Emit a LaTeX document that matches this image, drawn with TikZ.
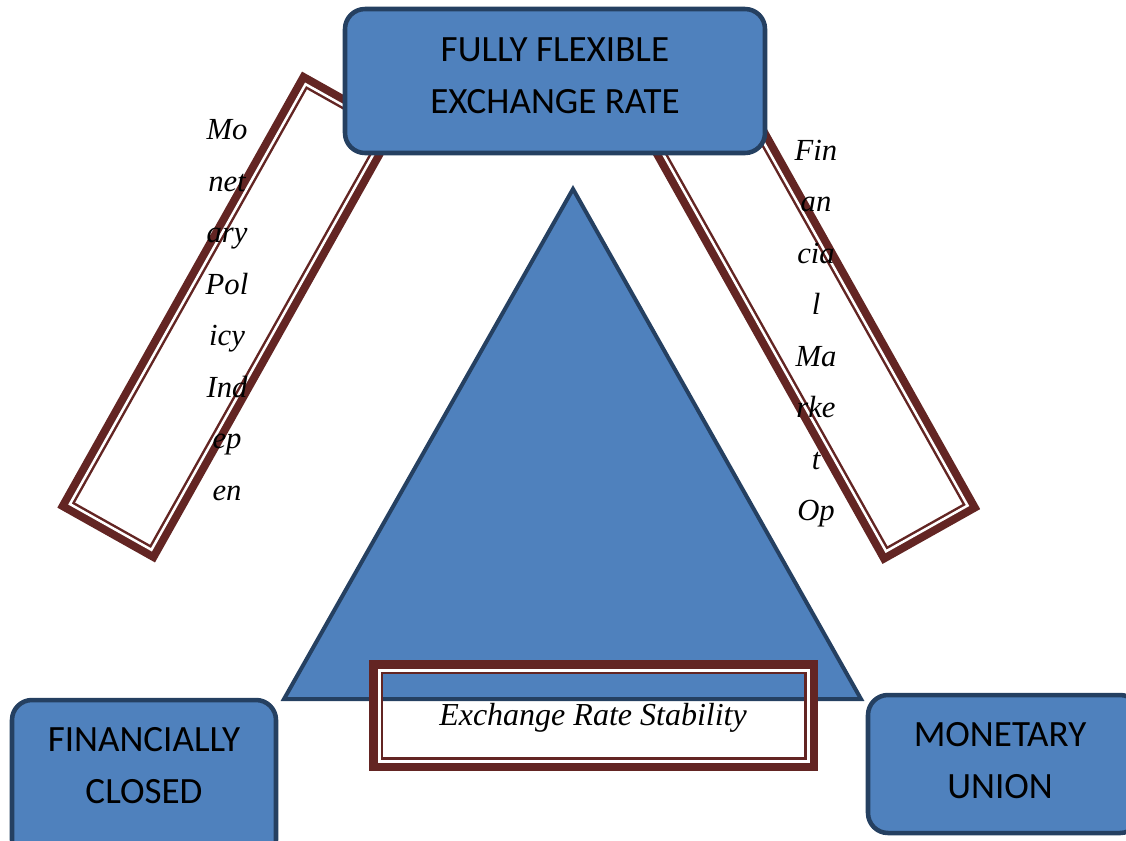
\documentclass[tikz,border=0pt]{standalone}
\usepackage{fontspec}
\setmainfont{Liberation Serif}
\newfontfamily\calibri{Carlito}
\definecolor{boxfill}{HTML}{4F81BD}
\definecolor{boxline}{HTML}{254061}
\definecolor{framered}{HTML}{632523}
\begin{document}
\begin{tikzpicture}[x=0.75pt,y=-0.75pt,
  bluebox/.style={draw=boxline, fill=boxfill, line width=3.4pt, rounded corners=15pt, inner sep=0pt, rectangle},
  tri/.style={draw=boxline, fill=boxfill, line width=3pt, line join=miter},
  frameband/.style={draw=framered, line width=#1, inner sep=0pt, rectangle},
  framegap/.style={draw=white, line width=#1, inner sep=0pt, rectangle},
  boxtext/.style={font=\calibri\fontsize{27.8}{39}\selectfont, align=center, inner sep=0pt},
  coltext/.style={font=\itshape\fontsize{23}{38.6}\selectfont, align=center, inner sep=0pt},
]
\useasboundingbox (0,0) rectangle (1126,840);

% rotated frames
\node[frameband=9.75pt, minimum width=365.25pt, minimum height=74.25pt, rotate=60.7] (lframe) at (228.5,317) {};
\node[framegap=1.875pt, minimum width=361.1pt, minimum height=70.1pt, rotate=60.7] (lframegap) at (lframe.center) {};
\node[frameband=9.75pt, minimum width=365.25pt, minimum height=74.25pt, rotate=-60.7] (rframe) at (809,318.5) {};
\node[framegap=1.875pt, minimum width=361.1pt, minimum height=70.1pt, rotate=-60.7] (rframegap) at (rframe.center) {};

% top box
\node[bluebox, minimum width=315pt, minimum height=108pt] (topbox) at (555,81) {};

% triangle
\coordinate (apex) at (573,189);
\coordinate (bl) at (284,699);
\coordinate (br) at (861,699);
\draw[tri] (apex) -- (bl) -- (br) -- cycle;

% exchange frame
\node[frameband=10.5pt, minimum width=326.25pt, minimum height=72.75pt] (eframe) at (593.5,715.5) {};
\node[framegap=2.25pt, minimum width=321.75pt, minimum height=68.25pt] (eframegap) at (eframe.center) {};

% bottom boxes
\node[bluebox, minimum width=198pt, minimum height=120pt] (blbox) at (144,780) {};
\node[bluebox, minimum width=204pt, minimum height=103.5pt] (brbox) at (1004,764) {};

% texts
\node[boxtext] (toptext) at (555,76) {FULLY FLEXIBLE\\EXCHANGE RATE};
\node[boxtext] (bltext) at (144,766) {FINANCIALLY\\CLOSED};
\node[boxtext] (brtext) at (1000,761) {MONETARY\\UNION};

\node[coltext] (ltext) at (227,310) {Mo\\net\\ary\\Pol\\icy\\Ind\\ep\\en};
\node[coltext] (rtext) at (816,333.5) {Fin\\an\\cia\\l\\Ma\\rke\\t\\Op};

\node[anchor=base, inner sep=0pt, font=\itshape\fontsize{24}{28}\selectfont] (etext) at (593,725) {Exchange Rate Stability};
\end{tikzpicture}
\end{document}
